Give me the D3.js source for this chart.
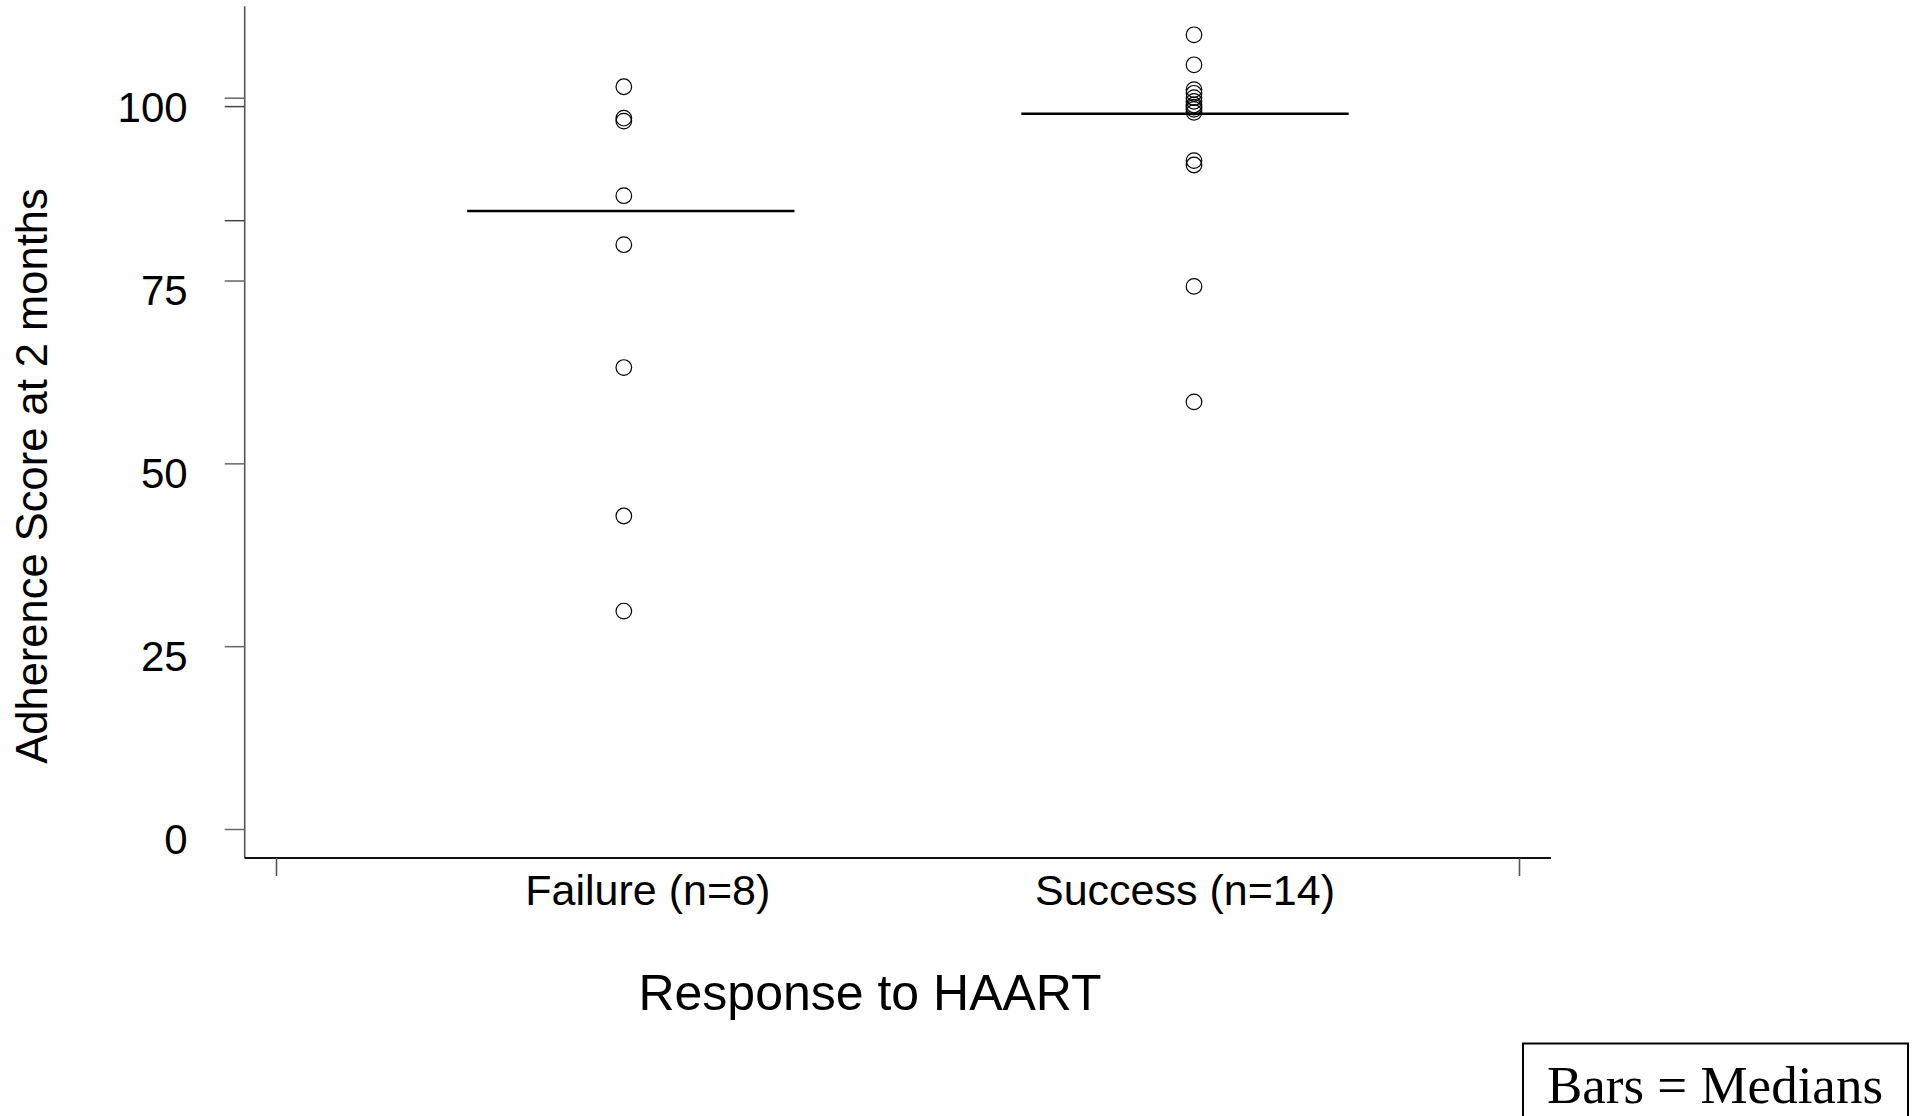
<!DOCTYPE html>
<html>
<head>
<meta charset="utf-8">
<script src="https://cdn.jsdelivr.net/npm/d3@7"></script>
<style>
  html, body { margin: 0; padding: 0; background: #fff; overflow: hidden; }
  svg { display: block; }
  text { font-family: "Liberation Sans", Arial, sans-serif; fill: #000; }
</style>
</head>
<body>
<div id="chart"></div>
<script>
// groups on the x axis
const groups = ['Failure (n=8)', 'Success (n=14)'];
// adherence scores
const failureScores = [101.5, 97.2, 96.8, 86.6, 79.9, 63.1, 42.8, 29.8];
const successScores = [108.6, 104.5, 101.1, 100.6, 100.0, 99.5, 99.0, 98.7, 98.4, 98.0, 91.4, 90.8, 74.2, 58.4];
// drawn median bars (as they sit in the picture)
const medianBars = [84.5, 97.8];
const yTicks = [0, 25, 50, 75, 100];
const xTitle = 'Response to HAART';
const yTitle = 'Adherence Score at 2 months';
const noteText = 'Bars = Medians';

const config = {
  width: 1916,
  height: 1116,
  axisX: 244.7,
  axisY: 858,
  pointR: 7.8,
  barHalf: 0.287
};

const series = [failureScores, successScores];

const svg = d3.select('#chart')
  .append('svg')
  .attr('width', config.width)
  .attr('height', config.height);

const scaleY = d3.scaleLinear()
  .domain([0, 100])
  .range([829, 97.7]);

const scaleX = d3.scaleLinear()
  .domain([0.39, 2.57])
  .range([276, 1519]);

// y axis line
svg.append('line')
  .attr('x1', config.axisX).attr('x2', config.axisX)
  .attr('y1', scaleY(112.5)).attr('y2', config.axisY)
  .attr('stroke', '#555').attr('stroke-width', 1.6);

// x axis line
svg.append('line')
  .attr('x1', config.axisX).attr('x2', scaleX(2.626))
  .attr('y1', config.axisY).attr('y2', config.axisY)
  .attr('stroke', '#111').attr('stroke-width', 1.8);

// y ticks with labels
const y_axis = d3.axisLeft(scaleY)
  .tickValues(yTicks)
  .tickSize(20)
  .tickPadding(0)
  .tickFormat(d3.format('d'));

const gy = svg.append('g')
  .attr('transform', `translate(${config.axisX},0)`)
  .call(y_axis);
gy.select('.domain').remove();
gy.selectAll('.tick line').attr('stroke', '#666').attr('stroke-width', 1.5);
gy.selectAll('.tick text')
  .attr('x', -57)
  .attr('dy', 24)
  .style('font-size', '42px')
  .style('font-family', '"Liberation Sans", Arial, sans-serif')
  .attr('fill', '#000');

// extra unlabeled ticks at the true group medians
const medTicks = d3.axisLeft(scaleY)
  .tickValues(series.map(s => d3.median(s)))
  .tickSize(20)
  .tickFormat('');
const gm = svg.append('g')
  .attr('transform', `translate(${config.axisX},0)`)
  .call(medTicks);
gm.select('.domain').remove();
gm.selectAll('.tick line').attr('stroke', '#444').attr('stroke-width', 1.5);

// x ticks at both ends
const x_axis = d3.axisBottom(scaleX)
  .tickValues(scaleX.domain())
  .tickSize(18)
  .tickFormat('');
const gx = svg.append('g')
  .attr('transform', `translate(0,${config.axisY})`)
  .call(x_axis);
gx.select('.domain').remove();
gx.selectAll('.tick line').attr('stroke', '#555').attr('stroke-width', 1.6);

// group labels
const labelDx = [24, -9];
svg.selectAll('.group-label')
  .data(groups)
  .enter()
  .append('text')
  .attr('class', 'group-label')
  .attr('x', (d, i) => scaleX(i + 1) + labelDx[i])
  .attr('y', 905)
  .attr('text-anchor', 'middle')
  .style('font-size', '43px')
  .text(d => d);

// median bars
svg.selectAll('.median-bar')
  .data(medianBars)
  .enter()
  .append('line')
  .attr('class', 'median-bar')
  .attr('x1', (d, i) => scaleX(i + 1 - config.barHalf) + (i === 0 ? 7 : -9))
  .attr('x2', (d, i) => scaleX(i + 1 + config.barHalf) + (i === 0 ? 7 : -9))
  .attr('y1', d => scaleY(d))
  .attr('y2', d => scaleY(d))
  .attr('stroke', '#000')
  .attr('stroke-width', 2.6);

// points
const pts = series.flatMap((s, i) => s.map(v => ({g: i, v})));
svg.selectAll('.pt')
  .data(pts)
  .enter()
  .append('circle')
  .attr('class', 'pt')
  .attr('cx', d => scaleX(d.g + 1))
  .attr('cy', d => scaleY(d.v))
  .attr('r', config.pointR)
  .attr('fill', 'none')
  .attr('stroke', '#000')
  .attr('stroke-width', 1.2);

// axis titles
svg.append('text')
  .attr('x', 870)
  .attr('y', 1010)
  .attr('text-anchor', 'middle')
  .style('font-size', '50px')
  .text(xTitle);

svg.append('text')
  .attr('transform', 'translate(47,476) rotate(-90)')
  .attr('text-anchor', 'middle')
  .style('font-size', '43.5px')
  .text(yTitle);

// note box
svg.append('rect')
  .attr('x', 1523)
  .attr('y', 1043.5)
  .attr('width', 385)
  .attr('height', 90)
  .attr('fill', 'none')
  .attr('stroke', '#000')
  .attr('stroke-width', 2);

svg.append('text')
  .attr('x', 1715)
  .attr('y', 1103)
  .attr('text-anchor', 'middle')
  .style('font-family', '"Liberation Serif", "Times New Roman", serif')
  .style('font-size', '53px')
  .text(noteText);
</script>
</body>
</html>
